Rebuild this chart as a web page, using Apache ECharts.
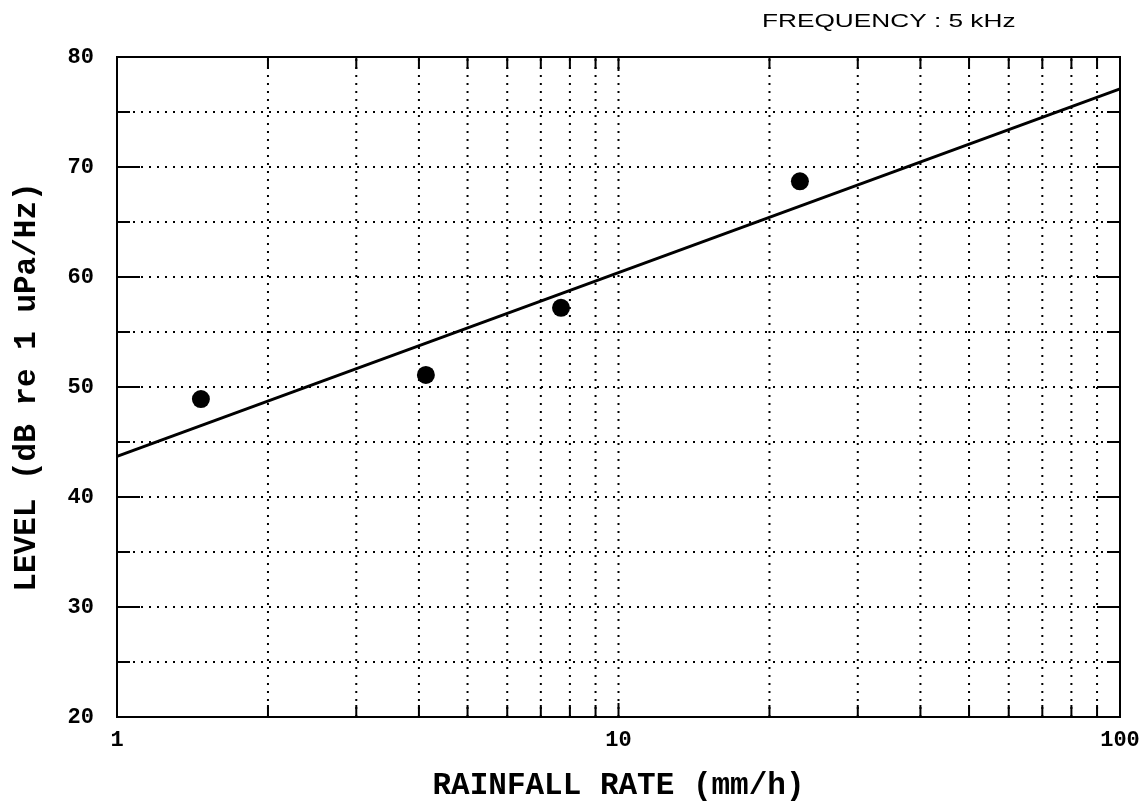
<!DOCTYPE html>
<html>
<head>
<meta charset="utf-8">
<script src="https://cdn.jsdelivr.net/npm/echarts@6/dist/echarts.min.js"></script>
<style>
  html, body { margin: 0; padding: 0; background: #fff; }
  #chart { width: 1147px; height: 802px; }
</style>
</head>
<body>
<div id="chart"></div>
<script>
// Measured points: rainfall rate (mm/h) vs. noise level (dB re 1 uPa/Hz)
const rainRate = [1.47, 4.13, 7.68, 23.0];
const noiseLevel = [48.9, 51.1, 57.2, 68.7];

// Fitted regression line, evaluated at the ends of the rate axis
const fitRate = [1, 100];
const fitLevel = [43.7, 77.1];

// Dotted grid positions
const xGridValues = [2, 3, 4, 5, 6, 7, 8, 9, 10, 20, 30, 40, 50, 60, 70, 80, 90];
const yGridValues = [25, 30, 35, 40, 45, 50, 55, 60, 65, 70, 75];

const xMin = 1, xMax = 100, yMin = 20, yMax = 80, yStep = 10;

const monoBold = { fontFamily: 'Liberation Mono', fontWeight: 'bold', color: '#000' };
const dotted = { stroke: '#000', lineWidth: 2, lineDash: [2, 6] };

const chart = echarts.init(document.getElementById('chart'), null, { renderer: 'canvas' });

const yAxisBase = {
  type: 'value',
  min: yMin,
  max: yMax,
  interval: yStep,
  axisLine: { show: false },
  splitLine: { show: false },
  axisTick: { show: true, inside: true, length: 23, lineStyle: { color: '#000', width: 2 } },
  minorTick: { show: true, splitNumber: 2, length: 13, lineStyle: { color: '#000', width: 2 } }
};

chart.setOption({
  animation: false,
  backgroundColor: '#fff',
  grid: {
    left: 117, right: 27, top: 57, bottom: 85,
    outerBoundsMode: 'none',
    containLabel: false,
    show: true, borderColor: '#000', borderWidth: 2, backgroundColor: 'transparent'
  },
  graphic: [{
    type: 'text',
    x: 762,
    y: 12,
    scaleX: 1.38,
    style: {
      text: 'FREQUENCY : 5 kHz',
      x: 0, y: 0,
      fontFamily: 'Liberation Sans',
      fontSize: 19,
      fill: '#000'
    }
  }],
  xAxis: {
    type: 'log',
    logBase: 10,
    min: xMin,
    max: xMax,
    name: 'RAINFALL RATE (mm/h)',
    nameLocation: 'middle',
    nameGap: 54,
    nameTextStyle: Object.assign({ fontSize: 31 }, monoBold),
    axisLine: { show: false },
    axisTick: { show: false },
    splitLine: { show: false },
    axisLabel: Object.assign({ fontSize: 22, margin: 12 }, monoBold)
  },
  yAxis: [
    Object.assign({}, yAxisBase, {
      position: 'left',
      name: 'LEVEL (dB re 1 uPa/Hz)',
      nameLocation: 'middle',
      nameRotate: 90,
      nameGap: 74,
      nameTextStyle: Object.assign({ fontSize: 31 }, monoBold),
      axisLabel: Object.assign({ fontSize: 22, margin: 23 }, monoBold)
    }),
    Object.assign({}, yAxisBase, {
      position: 'right',
      axisLabel: { show: false }
    })
  ],
  series: [
    {
      // vertical dotted grid lines with tick stubs on bottom and top
      type: 'custom',
      silent: true,
      z: 1,
      data: xGridValues.map(v => [v, yMin]),
      encode: { x: 0, y: 1 },
      renderItem: function (params, api) {
        const x = api.value(0);
        const b = api.coord([x, yMin]);
        const t = api.coord([x, yMax]);
        const tick = x === 10 ? 14 : 12;
        return {
          type: 'group',
          children: [
            { type: 'line', shape: { x1: b[0], y1: b[1], x2: t[0], y2: t[1] }, style: dotted },
            { type: 'line', shape: { x1: b[0], y1: b[1], x2: b[0], y2: b[1] - tick }, style: { stroke: '#000', lineWidth: 2 } },
            { type: 'line', shape: { x1: t[0], y1: t[1], x2: t[0], y2: t[1] + tick }, style: { stroke: '#000', lineWidth: 2 } }
          ]
        };
      }
    },
    {
      // horizontal dotted grid lines
      type: 'custom',
      silent: true,
      z: 1,
      data: yGridValues.map(v => [xMin, v]),
      encode: { x: 0, y: 1 },
      renderItem: function (params, api) {
        const y = api.value(1);
        const l = api.coord([xMin, y]);
        const r = api.coord([xMax, y]);
        return { type: 'line', shape: { x1: l[0], y1: l[1], x2: r[0], y2: r[1] }, style: dotted };
      }
    },
    {
      name: 'fit',
      type: 'line',
      z: 3,
      symbol: 'none',
      data: fitRate.map((x, i) => [x, fitLevel[i]]),
      lineStyle: { color: '#000', width: 3 }
    },
    {
      name: 'measured',
      type: 'scatter',
      z: 4,
      symbol: 'circle',
      symbolSize: 18,
      data: rainRate.map((x, i) => [x, noiseLevel[i]]),
      itemStyle: { color: '#000', opacity: 1 }
    }
  ]
});
</script>
</body>
</html>
